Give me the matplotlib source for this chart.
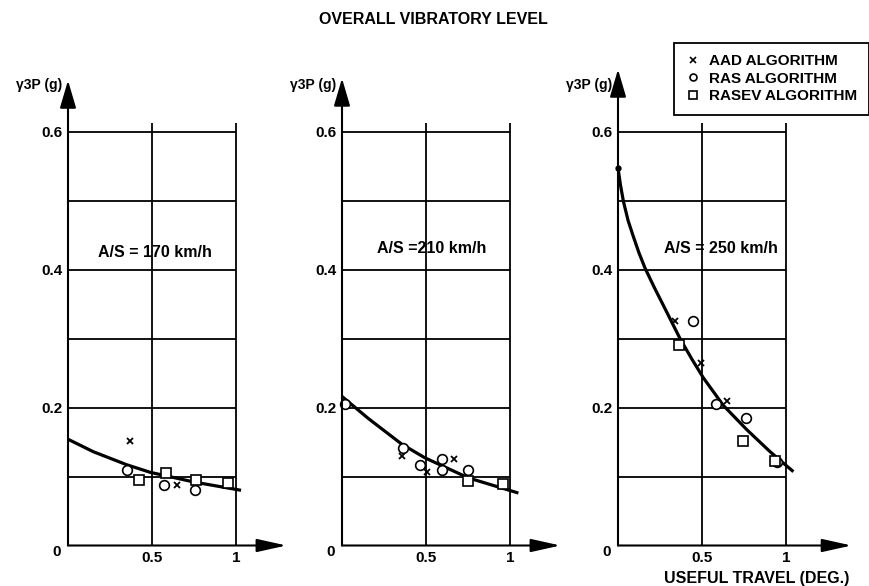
import matplotlib
matplotlib.use('Agg')
import matplotlib.pyplot as plt
from matplotlib.lines import Line2D

plt.rcParams['font.family'] = ['Liberation Sans', 'DejaVu Sans']
plt.rcParams['font.weight'] = 'bold'

# ---- data (x: useful travel in deg, y: gamma 3P in g)
aad_x_170 = [0.37, 0.65]
aad_y_170 = [0.151, 0.087]
ras_x_170 = [0.35, 0.57, 0.756]
ras_y_170 = [0.109, 0.088, 0.081]
rasev_x_170 = [0.425, 0.583, 0.762, 0.954]
rasev_y_170 = [0.095, 0.105, 0.095, 0.090]
fit_x_170 = [0.0, 0.15, 0.35, 0.49, 0.75, 1.03]
fit_y_170 = [0.154, 0.136, 0.117, 0.106, 0.092, 0.080]

aad_x_210 = [0.355, 0.504, 0.669]
aad_y_210 = [0.130, 0.107, 0.125]
ras_x_210 = [0.02, 0.365, 0.464, 0.593, 0.593, 0.752]
ras_y_210 = [0.205, 0.142, 0.117, 0.125, 0.109, 0.109]
rasev_x_210 = [0.752, 0.96]
rasev_y_210 = [0.094, 0.089]
fit_x_210 = [0.0, 0.157, 0.355, 0.494, 0.752, 1.05]
fit_y_210 = [0.216, 0.184, 0.147, 0.127, 0.098, 0.076]

aad_x_250 = [0.339, 0.492, 0.647]
aad_y_250 = [0.325, 0.265, 0.209]
ras_x_250 = [0.448, 0.583, 0.762, 0.945]
ras_y_250 = [0.326, 0.205, 0.185, 0.121]
rasev_x_250 = [0.365, 0.746, 0.934]
rasev_y_250 = [0.291, 0.151, 0.122]
start_x_250 = [0.0]
start_y_250 = [0.547]
fit_x_250 = [0.0, 0.015, 0.032, 0.06, 0.091, 0.125, 0.161, 0.216, 0.27, 0.369,
             0.44, 0.508, 0.627, 0.766, 0.905, 1.044]
fit_y_250 = [0.547, 0.522, 0.499, 0.471, 0.448, 0.424, 0.402, 0.374, 0.348, 0.300,
             0.270, 0.243, 0.203, 0.168, 0.136, 0.107]

grid_y = [0.1, 0.2, 0.3, 0.4, 0.5, 0.6]
grid_x = [0.5, 1.0]
ytick_vals = [0.2, 0.4, 0.6]
ytick_labels = ['0.2', '0.4', '0.6']
xtick_vals = [0.5, 1.0]
xtick_labels = ['0.5', '1']

panels = [
    (aad_x_170, aad_y_170, ras_x_170, ras_y_170, rasev_x_170, rasev_y_170, fit_x_170, fit_y_170),
    (aad_x_210, aad_y_210, ras_x_210, ras_y_210, rasev_x_210, rasev_y_210, fit_x_210, fit_y_210),
    (aad_x_250, aad_y_250, ras_x_250, ras_y_250, rasev_x_250, rasev_y_250, fit_x_250, fit_y_250),
]
labels = ['A/S = 170 km/h', 'A/S =210 km/h', 'A/S = 250 km/h']

W, H = 870, 586
fig = plt.figure(figsize=(W / 100, H / 100), dpi=100)

# pixel origin of each panel, and layout helpers
x0_pix = [68, 342, 618]
y0_pix = 545.5
px_x, px_y = 168.0, 690.0
xmax, ymax = 1.42, 0.72
label_pos = [(0.52, 0.425), (0.535, 0.43), (0.61, 0.43)]
ytip = [0.674, 0.677, 0.69]
xtip = [1.30, 1.30, 1.39]
vtop = [0.612, 0.612, 0.612]

axes = []
for i, (ax_x, ax_y, rs_x, rs_y, rv_x, rv_y, fx, fy) in enumerate(panels):
    ax = fig.add_axes([x0_pix[i] / W, (H - y0_pix) / H, xmax * px_x / W, ymax * px_y / H])
    axes.append(ax)
    ax.set_xlim(0, xmax)
    ax.set_ylim(0, ymax)
    for s in ax.spines.values():
        s.set_visible(False)

    ax.hlines(grid_y, 0, 1, colors='black', lw=1.3)
    ax.vlines(grid_x, 0, vtop[i], colors='black', lw=1.3)

    # arrowed axes
    ax.annotate('', xy=(0, ytip[i]), xytext=(0, 0),
                arrowprops=dict(arrowstyle='-|>,head_length=1.7,head_width=0.5',
                                color='black', lw=1.5, mutation_scale=10,
                                shrinkA=0, shrinkB=0), annotation_clip=False)
    ax.annotate('', xy=(xtip[i], 0), xytext=(0, 0),
                arrowprops=dict(arrowstyle='-|>,head_length=1.8,head_width=0.4',
                                color='black', lw=1.5, mutation_scale=10,
                                shrinkA=0, shrinkB=0), annotation_clip=False)

    ax.plot(fx, fy, color='black', lw=2.3, solid_capstyle='butt', clip_on=False)
    ax.plot(ax_x, ax_y, ls='none', marker='x', ms=4, mew=1.3, color='black', clip_on=False)
    ax.plot(rs_x, rs_y, ls='none', marker='o', ms=7, mew=1.2, mfc='white', mec='black', clip_on=False)
    ax.plot(rv_x, rv_y, ls='none', marker='s', ms=7, mew=1.2, mfc='white', mec='black', clip_on=False)

    ax.set_yticks(ytick_vals)
    ax.set_yticklabels(ytick_labels, fontsize=11, fontweight='bold')
    ax.set_xticks(xtick_vals)
    ax.set_xticklabels(xtick_labels, fontsize=11, fontweight='bold')
    ax.tick_params(length=0, pad=4)
    ax.tick_params(axis='x', pad=4)
    ax.annotate('0', xy=(0, 0), xytext=(-8, -5), textcoords='offset points',
                ha='center', va='center', fontsize=11, fontweight='bold', annotation_clip=False)
    ax.text(-0.035, 0.668, 'γ3P (g)', ha='right', va='center', fontsize=10, fontweight='bold')
    ax.text(label_pos[i][0], label_pos[i][1], labels[i], ha='center', va='center',
            fontsize=11.5, fontweight='bold')

# dot at the start of the 250 km/h curve
axes[2].plot(start_x_250, start_y_250, ls='none', marker='o', ms=3.5, color='black', clip_on=False)

fig.text(433 / W, 1 - 19 / H, 'OVERALL VIBRATORY LEVEL', ha='center', va='center',
         fontsize=11.5, fontweight='bold')
fig.text(757 / W, 1 - 578 / H, 'USEFUL TRAVEL (DEG.)', ha='center', va='center',
         fontsize=11.5, fontweight='bold')

handles = [
    Line2D([], [], ls='none', marker='x', ms=4, mew=1.2, color='black'),
    Line2D([], [], ls='none', marker='o', ms=5, mew=1.2, mfc='white', mec='black'),
    Line2D([], [], ls='none', marker='s', ms=5.5, mew=1.2, mfc='white', mec='black'),
]
leg = fig.legend(handles, ['AAD ALGORITHM', 'RAS ALGORITHM', 'RASEV ALGORITHM'],
                 loc='upper right', bbox_to_anchor=(869 / W, 1 - 43 / H), borderaxespad=0,
                 prop={'size': 11, 'weight': 'bold'}, frameon=True, fancybox=False,
                 edgecolor='black', framealpha=1, handlelength=1.0, handletextpad=0.6,
                 labelspacing=0.22, borderpad=0.75)
leg.get_frame().set_linewidth(1.3)

fig.savefig('out.png', dpi=100)
